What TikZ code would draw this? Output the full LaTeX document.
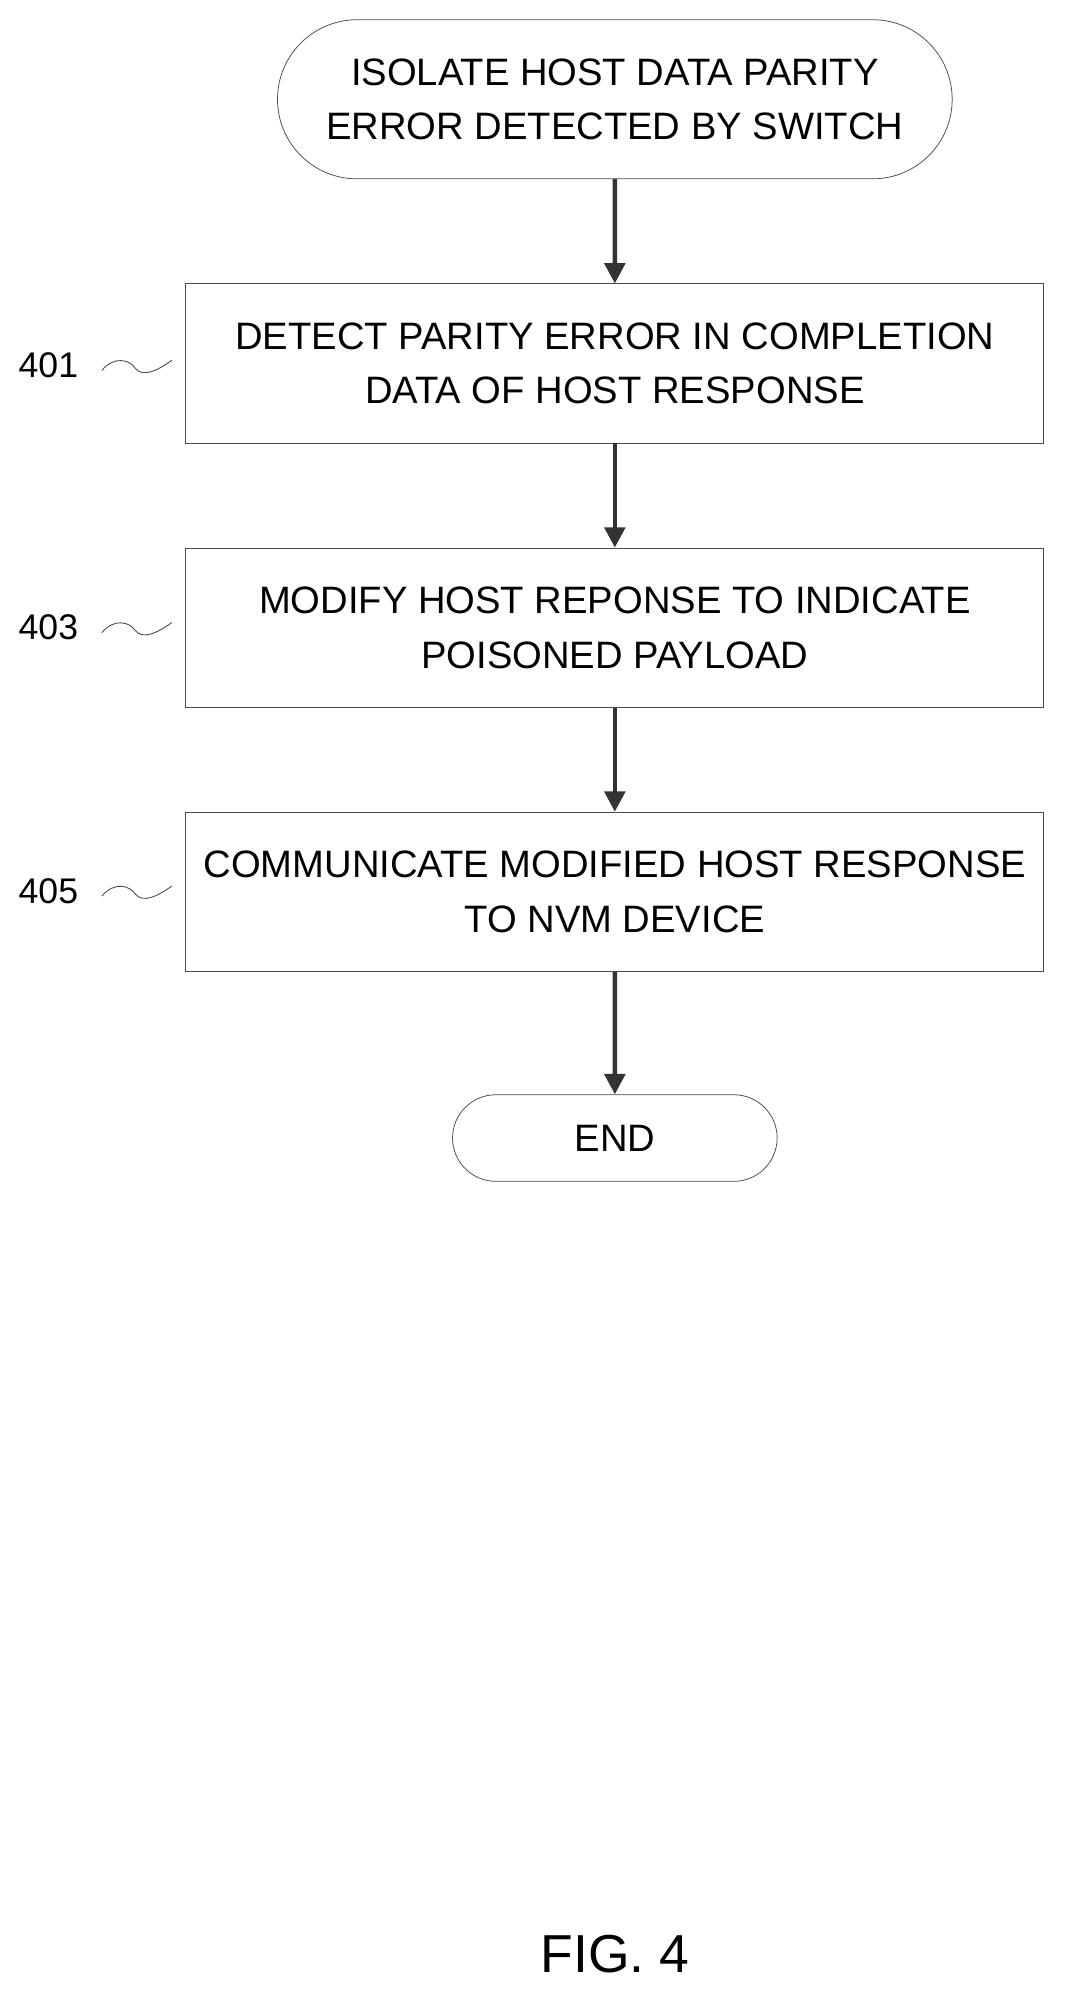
\documentclass[tikz,border=0pt]{standalone}
\usepackage{fontspec}
\setmainfont{Liberation Sans}
\usetikzlibrary{arrows.meta,shapes.misc}
\begin{document}
\begin{tikzpicture}[x=1pt,y=1pt,yscale=-1,xscale=1,
    stepbox/.style={draw=black!70, line width=0.6pt, minimum width=674pt, minimum height=125pt, align=center, font=\fontsize{30}{43}\selectfont, inner sep=0pt},
    term/.style={draw=black!70, line width=0.6pt, rounded rectangle, align=center, font=\fontsize{30}{43}\selectfont, inner sep=0pt},
    flow/.style={line width=3.5pt, black!80, -{Triangle[length=16pt,width=16pt]}},
    tag/.style={font=\fontsize{28}{32}\selectfont, anchor=center}]
        %set diagram to the reference size
        \useasboundingbox (0,0) rectangle (838,1568);
        
        %Terminals and steps
        \node [term, minimum width=530pt, minimum height=125pt] (start) at (483,78) {ISOLATE HOST DATA PARITY\\ERROR DETECTED BY SWITCH};
        \node [stepbox] (s401) at (483,285.5) {DETECT PARITY ERROR IN COMPLETION\\DATA OF HOST RESPONSE};
        \node [stepbox] (s403) at (483,493) {MODIFY HOST REPONSE TO INDICATE\\POISONED PAYLOAD};
        \node [stepbox] (s405) at (483,700.5) {COMMUNICATE MODIFIED HOST RESPONSE\\TO NVM DEVICE};
        \node [term, minimum width=255pt, minimum height=68pt] (end) at (483,894) {END};
        
        %Arrows
        \draw [flow] (start) -- (s401);
        \draw [flow] (s401) -- (s403);
        \draw [flow] (s403) -- (s405);
        \draw [flow] (s405) -- (end);
        
        %Reference labels
        \node [tag] (l401) at (38,287) {401};
        \node [tag] (l403) at (38,493) {403};
        \node [tag] (l405) at (38,700) {405};
        \foreach \yy in {287,493,700}
          \draw [black!70, line width=0.7pt] (80,\yy+4) .. controls (90,\yy-8) and (102,\yy-4) .. (106,\yy+2) .. controls (112,\yy+10) and (124,\yy+4) .. (135,\yy-4);
        
        % Figure label
        \node [font=\fontsize{42}{46}\selectfont] (fig) at (483,1535) {FIG. 4};
\end{tikzpicture}
\end{document}
